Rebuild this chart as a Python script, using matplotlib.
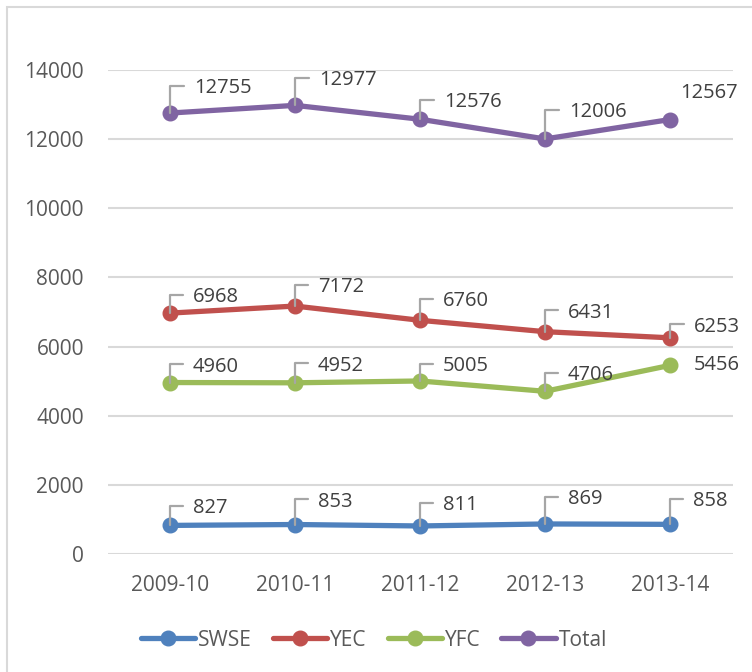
import matplotlib.pyplot as plt
from matplotlib.patches import Rectangle

plt.rcParams['font.family'] = ['Open Sans', 'DejaVu Sans']

# Data
years = ['2009-10', '2010-11', '2011-12', '2012-13', '2013-14']
swse = [827, 853, 811, 869, 858]
yec = [6968, 7172, 6760, 6431, 6253]
yfc = [4960, 4952, 5005, 4706, 5456]
total = [12755, 12977, 12576, 12006, 12567]

series_names = ['SWSE', 'YEC', 'YFC', 'Total']
series_values = [swse, yec, yfc, total]
colors = ['#4F81BD', '#C0504D', '#9BBB59', '#8064A2']

# label placement (pixels right / up from each point), and whether a leader line is drawn
label_dx = {'SWSE': [23, 23, 23, 23, 23], 'YEC': [23, 23, 23, 23, 24],
            'YFC': [23, 23, 23, 23, 24], 'Total': [24, 24, 24, 24, 10]}
label_dy = {'SWSE': [17, 23, 21, 25, 23], 'YEC': [16, 19, 19, 19, 11],
            'YFC': [16, 17, 15, 16, 0], 'Total': [25, 25, 17, 27, 27]}
leader = {'SWSE': [1, 1, 1, 1, 1], 'YEC': [1, 1, 1, 1, 1],
          'YFC': [1, 1, 1, 1, 0], 'Total': [1, 1, 1, 1, 0]}

fig = plt.figure(figsize=(7.52, 6.72), dpi=100)
ax = fig.add_axes([107.5 / 752, 118 / 672, 625 / 752, 484 / 672])

# light chart-area border (cut off at right and bottom like the source)
fig.patches.append(Rectangle((7 / 752, -0.1), 1.2, (665 / 672) + 0.1,
                             transform=fig.transFigure, fill=False,
                             edgecolor='#D9D9D9', linewidth=1.5))

x = range(len(years))
for name, vals, c in zip(series_names, series_values, colors):
    ax.plot(x, vals, color=c, linewidth=3.8, marker='o', markersize=10.5,
            label=name, solid_capstyle='round', zorder=3)
    for i, v in enumerate(vals):
        arrow = None
        if leader[name][i]:
            arrow = dict(arrowstyle='-', color='#A6A6A6', lw=1.6,
                         connectionstyle='angle,angleA=0,angleB=90,rad=0',
                         relpos=(0, 0.62), shrinkA=5, shrinkB=0)
        ax.annotate(str(v), xy=(i, v),
                    xytext=(label_dx[name][i], label_dy[name][i]),
                    textcoords='offset pixels', ha='left', va='center',
                    fontsize=14.5, color='#404040', arrowprops=arrow, zorder=4)

ax.set_xlim(-0.5, len(years) - 0.5)
ax.set_ylim(0, 14000)
ax.set_yticks(range(0, 14001, 2000))
ax.set_xticks(list(x))
ax.set_xticklabels(years)
ax.grid(axis='y', color='#D9D9D9', linewidth=1.5)
ax.set_axisbelow(True)
for s in ax.spines.values():
    s.set_visible(False)
ax.tick_params(axis='both', length=0, labelsize=15, labelcolor='#595959')
ax.tick_params(axis='x', pad=15)
ax.tick_params(axis='y', pad=17)

ax.legend(loc='center', bbox_to_anchor=(374 / 752, 32 / 672),
          bbox_transform=fig.transFigure, ncol=4, frameon=False,
          fontsize=15, labelcolor='#595959', handlelength=2.6,
          handletextpad=0.15, columnspacing=1.0, borderaxespad=0)

plt.savefig('out.png', dpi=100)
